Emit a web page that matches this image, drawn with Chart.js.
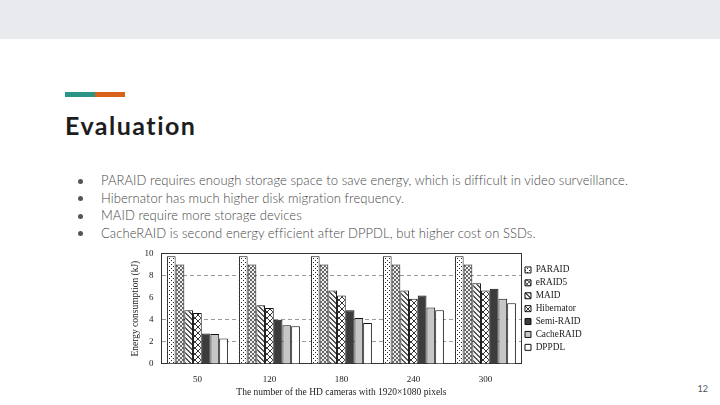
<!DOCTYPE html>
<html><head><meta charset="utf-8">
<script src="https://cdn.jsdelivr.net/npm/chart.js@4.4.1/dist/chart.umd.min.js"></script>
<style>
html,body{margin:0;padding:0;width:720px;height:405px;overflow:hidden;background:#fff;font-family:Lato,sans-serif;}
#band{position:absolute;left:0;top:0;width:720px;height:39px;background:#e8eaed;}
#acc1{position:absolute;left:65px;top:92px;width:30px;height:5px;background:#2a9486;}
#acc2{position:absolute;left:95px;top:92px;width:30px;height:5px;background:#d9621b;}
#title{position:absolute;left:65px;top:110px;margin:0;font:700 25px/30px Lato,sans-serif;color:#1d1d1d;white-space:nowrap;letter-spacing:1.5px;font-variant-ligatures:none;}
.bl{position:absolute;left:101px;font:300 13px/17.5px Lato,sans-serif;color:#474747;white-space:nowrap;letter-spacing:0.07px;font-variant-ligatures:none;}
.dot{position:absolute;left:78px;width:5px;height:5px;border-radius:50%;background:#555;}
#pg{position:absolute;right:12px;top:383px;font:400 9px/12px Lato,sans-serif;color:#555;}
#wrap{position:absolute;left:120px;top:240px;width:480px;height:165px;}
</style></head>
<body>
<div id="band"></div>
<div id="acc1"></div><div id="acc2"></div>
<div id="title">Evaluation</div>
<div class="dot" style="top:178.5px"></div><div class="bl" style="top:172px">PARAID requires enough storage space to save energy, which is difficult in video surveillance.</div>
<div class="dot" style="top:196px"></div><div class="bl" style="top:189.5px">Hibernator has much higher disk migration frequency.</div>
<div class="dot" style="top:213.5px"></div><div class="bl" style="top:207px">MAID require more storage devices</div>
<div class="dot" style="top:231px"></div><div class="bl" style="top:224.5px">CacheRAID is second energy efficient after DPPDL, but higher cost on SSDs.</div>
<div id="pg">12</div>
<div id="wrap"><canvas id="c"></canvas></div>
<script>
const categories = ['50', '120', '180', '240', '300'];
const seriesNames = ['PARAID', 'eRAID5', 'MAID', 'Hibernator', 'Semi-RAID', 'CacheRAID', 'DPPDL'];
const PARAID     = [9.75, 9.75, 9.75, 9.75, 9.75];
const eRAID5     = [9.0, 9.0, 9.0, 9.0, 9.0];
const MAID       = [4.85, 5.3, 6.65, 6.65, 7.3];
const Hibernator = [4.6, 5.05, 6.2, 5.9, 6.65];
const SemiRAID   = [2.75, 4.0, 4.85, 6.2, 6.8];
const CacheRAID  = [2.7, 3.5, 4.15, 5.1, 5.9];
const DPPDL      = [2.3, 3.4, 3.7, 4.85, 5.5];
const yTicks = [0, 2, 4, 6, 8, 10];
const dashedGrid = [2, 4, 8];

const canvas = document.getElementById('c');
const mainCtx = canvas.getContext('2d');
function makePattern(size, pixels, bg, fg) {
  const c = document.createElement('canvas');
  c.width = size; c.height = size;
  const g = c.getContext('2d');
  g.fillStyle = bg || '#fff';
  g.fillRect(0, 0, size, size);
  g.fillStyle = fg || '#111';
  pixels.forEach(p => g.fillRect(p[0], p[1], 1, 1));
  return mainCtx.createPattern(c, 'repeat');
}
const pDots = makePattern(4, [[0,0],[2,2]], '#fff', '#222');
const pCross = makePattern(4, [[0,0],[1,1],[2,2],[3,3],[0,3],[1,2],[2,1],[3,0]], '#f0f0f0', '#666');
const pDiag = (function(){ const a=[]; for(let i=0;i<5;i++){a.push([i,i]);a.push([i,(i+1)%5]);} return makePattern(5,a,'#f4f4f4','#555'); })();
const pX = (function(){ const a=[]; for(let i=0;i<6;i++){a.push([i,i]);a.push([i,5-i]);} return makePattern(6,a,'#fff','#333'); })();

const fills = [pDots, pCross, pDiag, pX, '#3c3c3c', '#c6c6c6', '#ffffff'];
const values = [PARAID, eRAID5, MAID, Hibernator, SemiRAID, CacheRAID, DPPDL];

const serif = 'Liberation Serif, DejaVu Serif, serif';
const datasets = seriesNames.map((n, i) => ({
  label: n,
  data: values[i],
  backgroundColor: fills[i],
  borderColor: '#111',
  borderWidth: 1,
  borderSkipped: 'bottom',
  categoryPercentage: 0.847,
  barPercentage: 1.0
}));

const chart = new Chart(canvas, {
  type: 'bar',
  data: { labels: categories, datasets },
  options: {
    responsive: true,
    maintainAspectRatio: false,
    animation: false,
    layout: { padding: 0 },
    plugins: {
      tooltip: { enabled: false },
      legend: {
        position: 'right',
        fullSize: false,
        align: 'center',
        labels: {
          boxWidth: 6, boxHeight: 6, padding: 3.6,
          color: '#222',
          font: { family: serif, size: 9.3 }
        }
      }
    },
    scales: {
      x: {
        offset: true,
        grid: { display: false, drawTicks: false },
        border: { display: true, color: '#333', width: 1 },
        ticks: { color: '#222', font: { family: serif, size: 9 }, padding: 10 },
        title: { display: true, text: 'The number of the HD cameras with 1920×1080 pixels', color: '#222', font: { family: serif, size: 9.5 }, padding: { top: -8, bottom: 0 } }
      },
      x2: {
        position: 'top',
        grid: { display: false, drawTicks: false },
        border: { display: true, color: '#333', width: 1 },
        ticks: { display: false }
      },
      y: {
        min: 0, max: 10,
        afterBuildTicks: s => { s.ticks = yTicks.map(v => ({ value: v })); },
        grid: {
          drawTicks: false,
          color: c => (c.tick && dashedGrid.includes(c.tick.value)) ? '#9a9a9a' : 'rgba(0,0,0,0)',
          lineWidth: 1
        },
        border: { display: true, color: '#333', width: 1, dash: [4, 3] },
        ticks: { color: '#222', font: { family: serif, size: 9 }, padding: 8 },
        title: { display: true, text: 'Energy consumption (kJ)', color: '#222', font: { family: serif, size: 9.5 }, padding: { top: 7, bottom: -5 } }
      },
      y2: {
        position: 'right',
        min: 0, max: 10,
        grid: { display: false, drawTicks: false },
        border: { display: true, color: '#333', width: 1 },
        ticks: { display: false }
      }
    }
  }
});

// place the plot area where the reference has it
const target = { left: 161, top: 253.5, right: 521, bottom: 364 };
const a = chart.chartArea;
const mL = a.left, mT = a.top, mR = chart.width - a.right, mB = chart.height - a.bottom;
const wrap = document.getElementById('wrap');
wrap.style.left = (target.left - mL) + 'px';
wrap.style.top = (target.top - mT) + 'px';
wrap.style.width = (mL + (target.right - target.left) + mR) + 'px';
wrap.style.height = (mT + (target.bottom - target.top) + mB) + 'px';
chart.resize();
</script>
</body></html>
